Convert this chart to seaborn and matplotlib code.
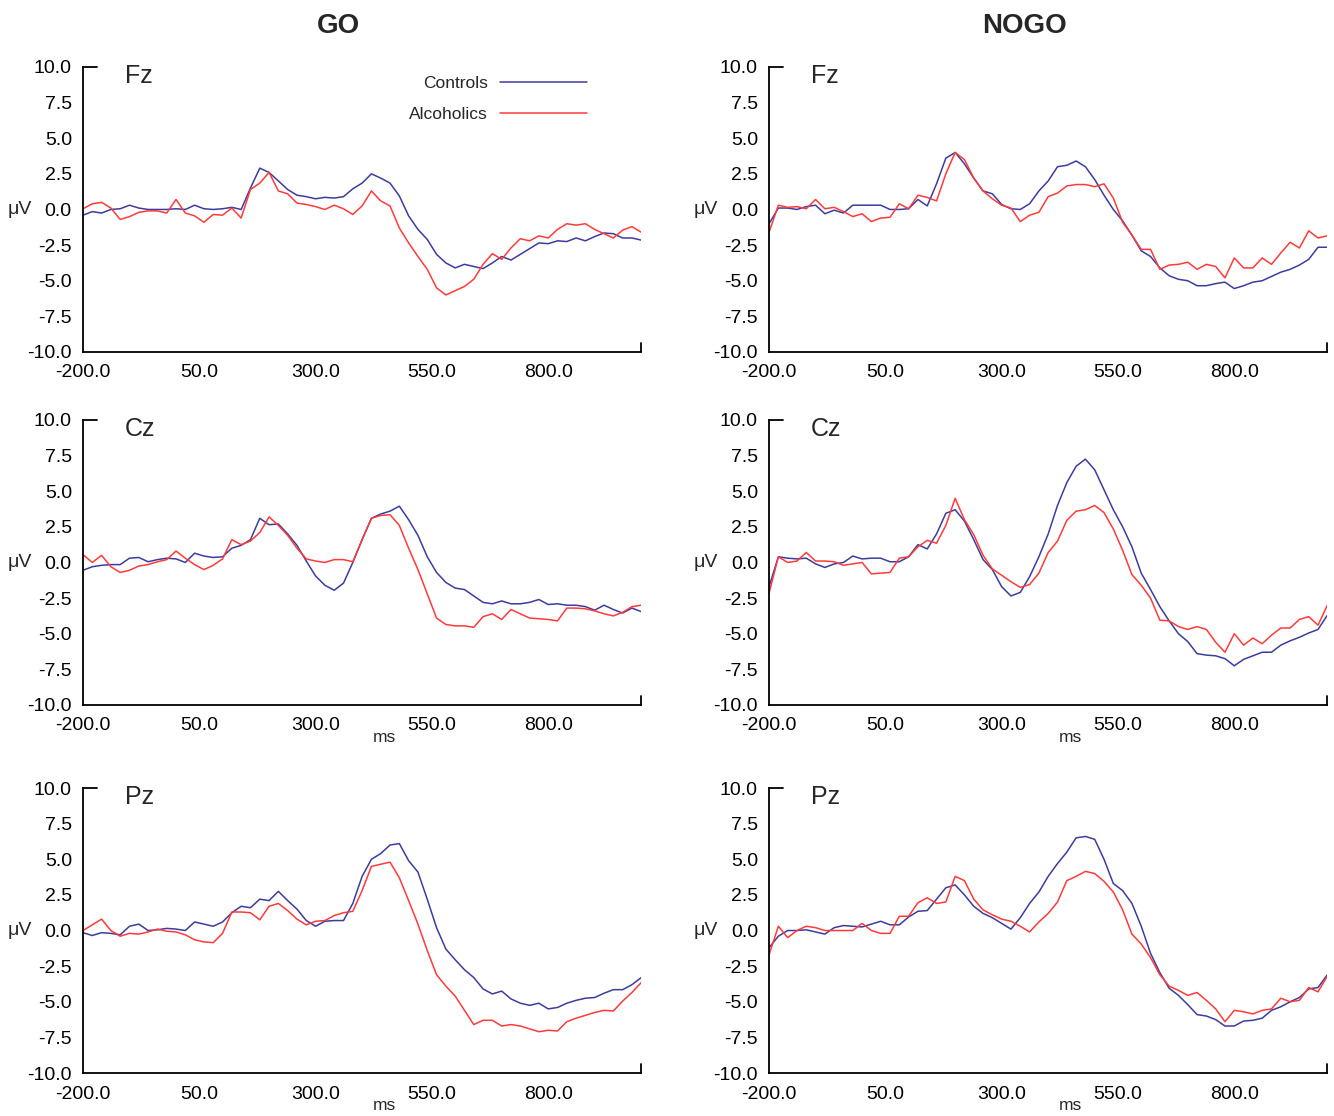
import numpy as np
import pandas as pd
import seaborn as sns
import matplotlib.pyplot as plt
from matplotlib.ticker import FormatStrFormatter

# sample times in ms (one reading every 20 ms)
ms = np.arange(-200, 1001, 20)

# GO condition (uV)
go_fz_ctrl = [-0.4, -0.15, -0.25, 0.0, 0.05, 0.3, 0.1, 0.0, 0.0, 0.0,
              0.05, 0.0, 0.3, 0.05, 0.0, 0.05, 0.15, 0.0, 1.5, 2.9,
              2.6, 2.0, 1.4, 1.0, 0.9, 0.75, 0.85, 0.8, 0.9, 1.45,
              1.85, 2.5, 2.2, 1.85, 0.95, -0.45, -1.4, -2.1, -3.15, -3.75,
              -4.1, -3.85, -4.0, -4.15, -3.75, -3.3, -3.55, -3.15, -2.75, -2.35,
              -2.4, -2.2, -2.25, -2.0, -2.2, -1.9, -1.65, -1.7, -2.0, -2.0,
              -2.15]
go_fz_alc = [0.05, 0.4, 0.5, 0.1, -0.7, -0.5, -0.2, -0.1, -0.1, -0.25,
             0.7, -0.25, -0.45, -0.9, -0.35, -0.4, 0.1, -0.6, 1.4, 1.85,
             2.6, 1.3, 1.1, 0.45, 0.35, 0.2, 0.0, 0.3, 0.05, -0.35,
             0.25, 1.3, 0.6, 0.25, -1.3, -2.35, -3.3, -4.2, -5.5, -6.0,
             -5.7, -5.4, -4.9, -3.85, -3.1, -3.5, -2.7, -2.05, -2.2, -1.85,
             -2.0, -1.4, -1.0, -1.1, -1.0, -1.4, -1.7, -2.0, -1.45, -1.2,
             -1.6]
go_cz_ctrl = [-0.55, -0.3, -0.2, -0.15, -0.15, 0.3, 0.35, 0.05, 0.2, 0.3,
              0.25, 0.0, 0.65, 0.45, 0.35, 0.4, 1.0, 1.2, 1.6, 3.1,
              2.65, 2.7, 2.0, 1.2, 0.1, -0.95, -1.6, -1.95, -1.45, 0.0,
              1.6, 3.1, 3.4, 3.6, 3.95, 3.0, 1.9, 0.4, -0.7, -1.4,
              -1.8, -1.9, -2.35, -2.8, -2.9, -2.7, -2.9, -2.9, -2.8, -2.6,
              -2.95, -2.9, -3.0, -3.0, -3.1, -3.35, -3.0, -3.3, -3.55, -3.2,
              -3.45]
go_cz_alc = [0.55, 0.0, 0.5, -0.3, -0.7, -0.55, -0.25, -0.15, 0.05, 0.2,
             0.8, 0.3, -0.15, -0.5, -0.2, 0.25, 1.6, 1.25, 1.5, 2.1,
             3.2, 2.6, 1.9, 1.0, 0.25, 0.1, 0.0, 0.2, 0.2, 0.05,
             1.6, 3.1, 3.3, 3.35, 2.6, 1.0, -0.5, -2.2, -3.9, -4.35,
             -4.45, -4.45, -4.55, -3.8, -3.6, -4.0, -3.3, -3.6, -3.9, -3.95,
             -4.0, -4.1, -3.2, -3.2, -3.25, -3.4, -3.6, -3.75, -3.5, -3.1,
             -3.0]
go_pz_ctrl = [-0.15, -0.35, -0.15, -0.2, -0.3, 0.3, 0.45, 0.0, 0.05, 0.15,
              0.1, 0.0, 0.6, 0.45, 0.3, 0.6, 1.25, 1.7, 1.6, 2.2,
              2.1, 2.75, 2.1, 1.5, 0.7, 0.3, 0.65, 0.7, 0.7, 1.9,
              3.8, 5.0, 5.4, 6.0, 6.1, 4.9, 4.1, 2.2, 0.2, -1.3,
              -2.05, -2.75, -3.3, -4.1, -4.45, -4.25, -4.8, -5.1, -5.25, -5.1,
              -5.5, -5.4, -5.1, -4.9, -4.75, -4.7, -4.4, -4.15, -4.15, -3.8,
              -3.3]
go_pz_alc = [0.0, 0.4, 0.8, 0.0, -0.4, -0.2, -0.25, -0.1, 0.1, -0.05,
             -0.1, -0.3, -0.65, -0.8, -0.85, -0.2, 1.3, 1.3, 1.25, 0.75,
             1.7, 1.9, 1.4, 0.8, 0.4, 0.65, 0.7, 1.05, 1.25, 1.35,
             2.8, 4.5, 4.65, 4.8, 3.7, 2.1, 0.45, -1.4, -3.1, -3.9,
             -4.6, -5.6, -6.6, -6.3, -6.3, -6.7, -6.6, -6.7, -6.9, -7.1,
             -7.0, -7.05, -6.4, -6.15, -5.95, -5.75, -5.6, -5.65, -4.95, -4.35,
             -3.65]

# NOGO condition
nogo_fz_ctrl = [-1.0, 0.1, 0.1, 0.0, 0.2, 0.3, -0.3, -0.05, -0.25, 0.3,
                0.3, 0.3, 0.3, 0.0, 0.0, 0.05, 0.7, 0.25, 1.8, 3.6,
                4.0, 3.2, 2.2, 1.3, 1.1, 0.35, 0.05, 0.0, 0.4, 1.3,
                2.0, 3.0, 3.1, 3.4, 3.0, 2.1, 1.0, 0.0, -0.8, -1.8,
                -2.9, -3.3, -4.1, -4.65, -4.9, -5.0, -5.35, -5.35, -5.2, -5.1,
                -5.55, -5.35, -5.1, -5.0, -4.7, -4.4, -4.2, -3.9, -3.5, -2.65,
                -2.65]
nogo_fz_alc = [-1.6, 0.3, 0.15, 0.2, 0.05, 0.7, 0.05, 0.15, -0.15, -0.5,
               -0.3, -0.85, -0.6, -0.55, 0.4, 0.05, 1.0, 0.85, 0.6, 2.5,
               4.0, 3.5, 2.2, 1.3, 0.75, 0.3, 0.1, -0.85, -0.4, -0.2,
               0.9, 1.15, 1.65, 1.75, 1.75, 1.6, 1.8, 0.8, -0.9, -1.8,
               -2.8, -2.8, -4.2, -3.9, -3.85, -3.7, -4.2, -3.85, -4.0, -4.8,
               -3.4, -4.1, -4.1, -3.4, -3.85, -3.05, -2.3, -2.7, -1.5, -2.0,
               -1.85]
nogo_cz_ctrl = [-1.7, 0.4, 0.3, 0.25, 0.3, -0.1, -0.35, -0.1, 0.0, 0.45,
                0.25, 0.3, 0.3, 0.05, 0.05, 0.4, 1.25, 0.95, 2.0, 3.45,
                3.7, 2.9, 1.6, 0.2, -0.5, -1.7, -2.35, -2.1, -1.0, 0.4,
                2.0, 4.0, 5.6, 6.75, 7.25, 6.5, 5.1, 3.7, 2.5, 1.1,
                -0.75, -1.9, -3.1, -4.1, -5.0, -5.55, -6.4, -6.5, -6.55, -6.75,
                -7.25, -6.8, -6.55, -6.3, -6.3, -5.8, -5.5, -5.25, -4.95, -4.7,
                -3.7]
nogo_cz_alc = [-2.15, 0.4, 0.0, 0.1, 0.7, 0.1, 0.1, 0.05, -0.2, -0.1,
               0.0, -0.8, -0.75, -0.7, 0.3, 0.4, 1.1, 1.55, 1.35, 2.6,
               4.5, 3.0, 1.95, 0.5, -0.45, -0.9, -1.35, -1.75, -1.55, -0.75,
               0.7, 1.5, 2.95, 3.6, 3.7, 4.0, 3.5, 2.35, 0.85, -0.85,
               -1.6, -2.5, -4.05, -4.1, -4.5, -4.7, -4.5, -4.7, -5.6, -6.3,
               -5.0, -5.8, -5.3, -5.7, -5.1, -4.6, -4.6, -4.0, -3.8, -4.4,
               -3.0]
nogo_pz_ctrl = [-1.2, -0.4, 0.0, 0.0, 0.05, -0.1, -0.25, 0.2, 0.35, 0.3,
                0.25, 0.45, 0.65, 0.4, 0.4, 0.95, 1.35, 1.4, 2.2, 3.0,
                3.2, 2.5, 1.7, 1.2, 0.9, 0.5, 0.1, 0.9, 1.9, 2.7,
                3.8, 4.7, 5.5, 6.5, 6.6, 6.4, 5.0, 3.3, 2.8, 1.9,
                0.3, -1.6, -2.95, -4.05, -4.55, -5.2, -5.9, -6.0, -6.25, -6.7,
                -6.7, -6.35, -6.3, -6.15, -5.6, -5.35, -5.0, -4.7, -4.1, -4.0,
                -3.1]
nogo_pz_alc = [-1.7, 0.3, -0.5, 0.0, 0.3, 0.2, 0.0, 0.0, 0.0, 0.0,
               0.5, 0.0, -0.2, -0.2, 1.0, 1.0, 1.95, 2.3, 1.9, 2.0,
               3.8, 3.5, 2.2, 1.45, 1.1, 0.8, 0.65, 0.3, -0.1, 0.6,
               1.2, 2.0, 3.5, 3.8, 4.15, 4.0, 3.45, 2.7, 1.45, -0.25,
               -0.95, -1.9, -3.1, -3.9, -4.2, -4.55, -4.35, -4.9, -5.5, -6.4,
               -5.6, -5.7, -5.85, -5.6, -5.5, -4.75, -5.0, -4.9, -4.0, -4.3,
               -3.2]

conditions = ['GO', 'NOGO']
electrodes = ['Fz', 'Cz', 'Pz']
groups = ['Controls', 'Alcoholics']
series = {
    ('GO', 'Fz'): (go_fz_ctrl, go_fz_alc),
    ('GO', 'Cz'): (go_cz_ctrl, go_cz_alc),
    ('GO', 'Pz'): (go_pz_ctrl, go_pz_alc),
    ('NOGO', 'Fz'): (nogo_fz_ctrl, nogo_fz_alc),
    ('NOGO', 'Cz'): (nogo_cz_ctrl, nogo_cz_alc),
    ('NOGO', 'Pz'): (nogo_pz_ctrl, nogo_pz_alc),
}

sns.set_style('white')
plt.rcParams['font.family'] = ['Liberation Sans', 'DejaVu Sans']
plt.rcParams['axes.unicode_minus'] = False

palette = {'Controls': '#3c3c9e', 'Alcoholics': '#ff3a3a'}

fig = plt.figure(figsize=(13.34, 11.16), dpi=100)

lefts = [0.0622, 0.5765]
bottoms = [0.6846, 0.3683, 0.0385]
width, height = 0.4185, 0.2554

for ci, cond in enumerate(conditions):
    for ri, elec in enumerate(electrodes):
        ax = fig.add_axes([lefts[ci], bottoms[ri], width, height])
        ctrl, alc = series[(cond, elec)]
        df = pd.DataFrame({
            'ms': np.tile(ms, 2),
            'uV': np.concatenate([ctrl, alc]),
            'group': np.repeat(groups, len(ms)),
        })
        first = (ci == 0 and ri == 0)
        sns.lineplot(data=df, x='ms', y='uV', hue='group', hue_order=groups,
                     palette=palette, linewidth=1.1, ax=ax, legend=first)

        ax.set_xlim(-200, 1000)
        ax.set_ylim(-10, 10)
        ax.set_xticks([-200, 50, 300, 550, 800])
        ax.set_yticks(np.arange(-10, 10.1, 2.5))
        ax.xaxis.set_major_formatter(FormatStrFormatter('%.1f'))
        ax.yaxis.set_major_formatter(FormatStrFormatter('%.1f'))
        ax.tick_params(axis='y', direction='out', length=7, width=1.2,
                       labelsize=14, pad=1, colors='black')
        ax.tick_params(axis='x', length=0, labelsize=14, pad=9, colors='black')
        sns.despine(ax=ax)
        for side in ['left', 'bottom']:
            ax.spines[side].set_color('black')
            ax.spines[side].set_linewidth(1.3)

        # little end marks of the original axes
        ax.axhline(10, xmin=0, xmax=0.025, color='black', lw=1.3, clip_on=False)
        ax.axvline(1000, ymin=0, ymax=0.03, color='black', lw=1.3, clip_on=False)

        ax.set_ylabel('μV', rotation=0, fontsize=14, va='center')
        ax.yaxis.set_label_coords(-0.113, 0.5)
        if ri > 0:
            ax.set_xlabel('ms', fontsize=12.5, va='top')
            ax.xaxis.set_label_coords(0.54, -0.088)
        else:
            ax.set_xlabel('')

        ax.text(0.075, 1.01, elec, transform=ax.transAxes, fontsize=18,
                va='top', ha='left')

        if first:
            handles, labels = ax.get_legend_handles_labels()
            ax.legend(handles, labels, loc='upper right', bbox_to_anchor=(0.93, 1.025),
                      frameon=False, markerfirst=False, handlelength=5.0,
                      fontsize=12.5, labelspacing=0.95, handletextpad=0.7)

fig.text(0.2534, 0.977, 'GO', ha='center', va='center', fontsize=20, fontweight='bold')
fig.text(0.7676, 0.977, 'NOGO', ha='center', va='center', fontsize=20, fontweight='bold')

fig.savefig('out.png', dpi=100)
